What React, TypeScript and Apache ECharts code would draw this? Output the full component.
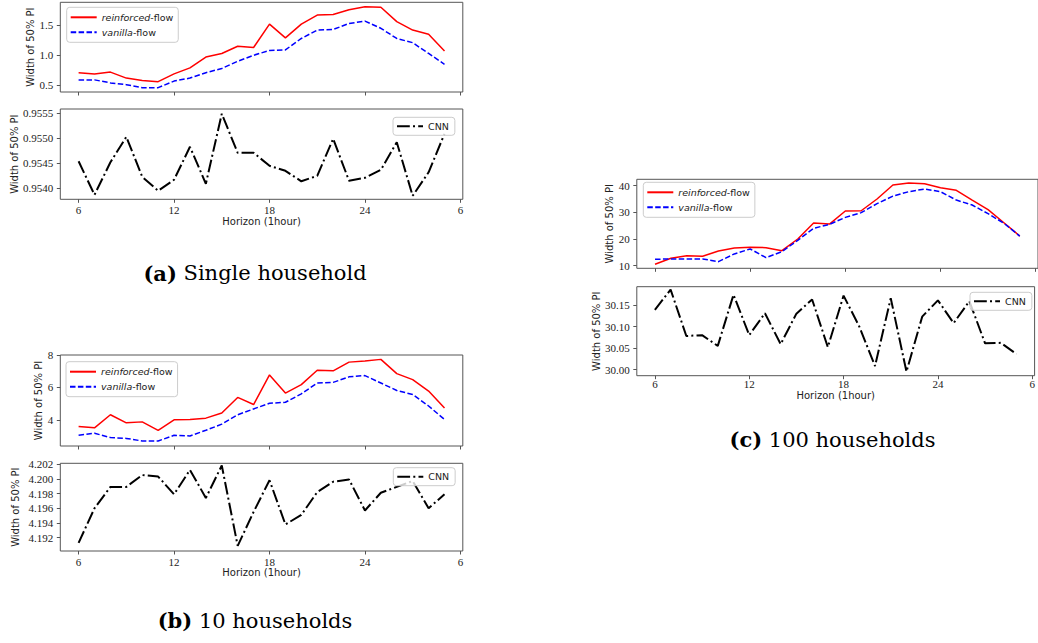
import React, { useEffect, useRef } from 'react';
import * as echarts from 'echarts';

// ---------- data ----------
const hours = [6, 7, 8, 9, 10, 11, 12, 13, 14, 15, 16, 17, 18, 19, 20, 21, 22, 23, 24, 25, 26, 27, 28, 29];

const singleReinforced = [0.71, 0.69, 0.72, 0.62, 0.58, 0.56, 0.69, 0.79, 0.97, 1.03, 1.15, 1.13, 1.52, 1.29, 1.52, 1.67, 1.68, 1.76, 1.81, 1.80, 1.56, 1.42, 1.35, 1.07];
const singleVanilla = [0.59, 0.59, 0.54, 0.51, 0.46, 0.46, 0.57, 0.62, 0.71, 0.78, 0.90, 1.00, 1.08, 1.09, 1.28, 1.42, 1.43, 1.53, 1.57, 1.45, 1.28, 1.21, 1.03, 0.85];
const singleCNN = [0.95454, 0.95387, 0.95452, 0.95503, 0.95423, 0.95395, 0.95417, 0.95483, 0.95409, 0.95549, 0.95471, 0.95471, 0.95445, 0.95435, 0.95414, 0.95425, 0.95499, 0.95415, 0.95421, 0.95437, 0.95492, 0.95385, 0.95432, 0.95509];

const tenReinforced = [3.58, 3.50, 4.31, 3.81, 3.87, 3.35, 4.00, 4.02, 4.10, 4.42, 5.38, 4.94, 6.77, 5.65, 6.17, 7.06, 7.02, 7.56, 7.63, 7.73, 6.85, 6.48, 5.77, 4.73];
const tenVanilla = [3.04, 3.17, 2.90, 2.85, 2.69, 2.69, 3.04, 3.00, 3.35, 3.73, 4.31, 4.67, 5.02, 5.08, 5.60, 6.27, 6.31, 6.65, 6.73, 6.27, 5.81, 5.56, 4.85, 4.02];
const tenCNN = [4.1913, 4.1960, 4.1989, 4.1989, 4.2005, 4.2003, 4.1979, 4.2012, 4.1974, 4.2018, 4.1909, 4.1955, 4.1998, 4.1938, 4.1951, 4.1982, 4.1996, 4.1999, 4.1957, 4.1981, 4.1989, 4.1997, 4.1960, 4.1979];

const hundredReinforced = [10.5, 12.75, 13.75, 13.5, 15.5, 16.6, 16.9, 16.75, 15.6, 20.0, 26.0, 25.6, 30.5, 30.6, 35.0, 40.25, 41.0, 40.75, 39.25, 38.25, 34.6, 31.0, 26.1, 21.1];
const hundredVanilla = [12.4, 12.5, 12.5, 12.5, 11.5, 14.4, 16.25, 13.0, 15.25, 19.5, 24.0, 25.5, 28.1, 29.9, 33.25, 36.1, 37.75, 38.75, 37.75, 34.6, 32.75, 29.5, 25.9, 21.1];
const hundredCNN = [30.139, 30.186, 30.078, 30.080, 30.055, 30.174, 30.080, 30.131, 30.059, 30.130, 30.163, 30.052, 30.172, 30.100, 30.008, 30.166, 29.995, 30.123, 30.161, 30.108, 30.159, 30.061, 30.062, 30.036];

const xTicks = [6, 12, 18, 24, 30];
const yTicksSingleFlow = [0.5, 1.0, 1.5];
const yTicksSingleCNN = [0.954, 0.9545, 0.955, 0.9555];
const yTicksTenFlow = [4, 6, 8];
const yTicksTenCNN = [4.192, 4.194, 4.196, 4.198, 4.2, 4.202];
const yTicksHundredFlow = [10, 20, 30, 40];
const yTicksHundredCNN = [30.0, 30.05, 30.1, 30.15];

const captions = [
  { tag: '(a)', text: 'Single household' },
  { tag: '(b)', text: '10 households' },
  { tag: '(c)', text: '100 households' },
];

const REINFORCED = 'reinforced-flow';
const VANILLA = 'vanilla-flow';
const CNN = 'CNN';

// ---------- layout / style ----------
const FRAME = '#555';
const TXT = '#222';
const SANS = "'DejaVu Sans', sans-serif";
const SERIF = "'Liberation Serif', 'Times New Roman', serif";
const CAPTION_FONT = "'DejaVu Serif', serif";

type Panel = {
  left: number; top: number; width: number; height: number;
  yMin: number; yMax: number; yTicks: number[]; dec: number;
  yNameGap: number; showX: boolean; xMargin: number; xNameGap: number;
  kind: 'flow' | 'cnn'; flowR?: number[]; flowV?: number[]; cnn?: number[];
  legendLeft: number; legendTop: number;
};

const panels: Panel[] = [
  { left: 60.3, top: 2.3, width: 402.5, height: 89.7, yMin: 0.388, yMax: 1.883, yTicks: yTicksSingleFlow, dec: 1, yNameGap: 20.5, showX: false, xMargin: 5, xNameGap: 13, kind: 'flow', flowR: singleReinforced, flowV: singleVanilla, legendLeft: 66.7, legendTop: 7.3 },
  { left: 60.3, top: 109, width: 402.5, height: 90.3, yMin: 0.95378, yMax: 0.955586, yTicks: yTicksSingleCNN, dec: 4, yNameGap: 39.5, showX: true, xMargin: 5, xNameGap: 13.5, kind: 'cnn', cnn: singleCNN, legendLeft: 393, legendTop: 117.3 },
  { left: 60.3, top: 355, width: 402.5, height: 91, yMin: 2.38, yMax: 8.0, yTicks: yTicksTenFlow, dec: 0, yNameGap: 12, showX: false, xMargin: 5, xNameGap: 13, kind: 'flow', flowR: tenReinforced, flowV: tenVanilla, legendLeft: 66, legendTop: 361.7 },
  { left: 60.3, top: 463.3, width: 402.5, height: 87.7, yMin: 4.1902, yMax: 4.2021, yTicks: yTicksTenCNN, dec: 3, yNameGap: 39.5, showX: true, xMargin: 5, xNameGap: 12, kind: 'cnn', cnn: tenCNN, legendLeft: 393.3, legendTop: 467.7 },
  { left: 636.8, top: 179.3, width: 403.5, height: 89, yMin: 9.0, yMax: 42.4, yTicks: yTicksHundredFlow, dec: 0, yNameGap: 16, showX: false, xMargin: 3, xNameGap: 9, kind: 'flow', flowR: hundredReinforced, flowV: hundredVanilla, legendLeft: 643.3, legendTop: 182.3 },
  { left: 636.8, top: 286.7, width: 403.5, height: 89, yMin: 29.9856, yMax: 30.1927, yTicks: yTicksHundredCNN, dec: 2, yNameGap: 32.6, showX: true, xMargin: 3, xNameGap: 8.5, kind: 'cnn', cnn: hundredCNN, legendLeft: 970, legendTop: 292.3 },
];

const captionPos = [
  { x: 255, y: 273 },
  { x: 255, y: 620.5 },
  { x: 832.5, y: 439.5 },
];

function pairs(values: number[]) {
  return hours.map((h, i) => [h, values[i]]);
}

function buildOption() {
  const grid: any[] = [];
  const xAxis: any[] = [];
  const yAxis: any[] = [];
  const series: any[] = [];
  const legend: any[] = [];

  panels.forEach((p, i) => {
    grid.push({
      left: p.left, top: p.top, width: p.width, height: p.height,
      show: true, borderColor: FRAME, borderWidth: 1, backgroundColor: 'transparent',
    });
    xAxis.push({
      type: 'value', gridIndex: i, min: 4.85, max: 30.15,
      axisLine: { show: false }, splitLine: { show: false },
      axisTick: { show: true, customValues: xTicks, length: 3.5, lineStyle: { color: FRAME, width: 1 } },
      axisLabel: {
        show: p.showX, customValues: xTicks, margin: p.xMargin,
        formatter: (v: number) => String(v > 24 ? v - 24 : v),
        fontFamily: SERIF, fontSize: 11, color: TXT,
      },
      name: p.showX ? 'Horizon (1hour)' : '',
      nameLocation: 'middle', nameGap: p.xNameGap,
      nameTextStyle: { fontFamily: SANS, fontSize: 10, color: TXT },
    });
    yAxis.push({
      type: 'value', gridIndex: i, min: p.yMin, max: p.yMax,
      axisLine: { show: false }, splitLine: { show: false },
      axisTick: { show: true, customValues: p.yTicks, length: 3.5, lineStyle: { color: FRAME, width: 1 } },
      axisLabel: {
        show: true, customValues: p.yTicks, margin: 7,
        formatter: (v: number) => v.toFixed(p.dec),
        fontFamily: SERIF, fontSize: 11, color: TXT,
      },
      name: 'Width of 50% PI', nameLocation: 'middle', nameGap: p.yNameGap,
      nameTextStyle: { fontFamily: SANS, fontSize: 10, color: TXT },
    });

    const legendCommon = {
      orient: 'vertical', left: p.legendLeft, top: p.legendTop,
      itemWidth: 26, itemHeight: 10, itemGap: 5,
      backgroundColor: 'rgba(255,255,255,0.8)', borderColor: '#cccccc', borderWidth: 1, borderRadius: 3,
      selectedMode: false,
      itemStyle: { opacity: 0, borderWidth: 0 },
      textStyle: {
        fontFamily: SANS, fontSize: 9.5, color: TXT,
        rich: { i: { fontFamily: SANS, fontSize: 9.5, color: TXT, fontStyle: 'italic' } },
      },
      formatter: (name: string) =>
        name === REINFORCED ? '{i|reinforced}-flow' : name === VANILLA ? '{i|vanilla}-flow' : name,
    };

    if (p.kind === 'flow') {
      series.push({
        name: REINFORCED, type: 'line', xAxisIndex: i, yAxisIndex: i, symbol: 'none',
        data: pairs(p.flowR!), color: '#ff0000',
        lineStyle: { color: '#ff0000', width: 1.5, type: 'solid' },
      });
      series.push({
        name: VANILLA, type: 'line', xAxisIndex: i, yAxisIndex: i, symbol: 'none',
        data: pairs(p.flowV!), color: '#0000ff',
        lineStyle: { color: '#0000ff', width: 1.5, type: [5.5, 2.4] },
      });
      legend.push({ ...legendCommon, padding: [5, 5, 5, 3], data: [REINFORCED, VANILLA] });
    } else {
      series.push({
        name: CNN, type: 'line', xAxisIndex: i, yAxisIndex: i, symbol: 'none',
        data: pairs(p.cnn!), color: '#000000',
        lineStyle: { color: '#000000', width: 2, type: [12.8, 3.2, 2, 3.2] },
      });
      legend.push({ ...legendCommon, padding: [4, 6, 4, 3], data: [CNN] });
    }
  });

  const graphic = captions.map((c, i) => ({
    type: 'text',
    x: captionPos[i].x,
    y: captionPos[i].y,
    style: {
      text: '{b|' + c.tag + '} ' + c.text,
      align: 'center', verticalAlign: 'middle',
      fontFamily: CAPTION_FONT, fontSize: 21, fill: '#000',
      rich: { b: { fontFamily: CAPTION_FONT, fontSize: 21, fontWeight: 'bold', fill: '#000' } },
    },
  }));

  return {
    animation: false,
    backgroundColor: '#ffffff',
    grid, xAxis, yAxis, series, legend, graphic,
  };
}

export default function App() {
  const ref = useRef<HTMLDivElement>(null);
  useEffect(() => {
    if (!ref.current) return;
    const chart = echarts.init(ref.current, null, { renderer: 'svg' });
    chart.setOption(buildOption() as any);
    return () => chart.dispose();
  }, []);
  return (
    <div
      ref={ref}
      style={{ position: 'absolute', left: 0, top: 0, width: 1038, height: 643, background: '#fff' }}
    />
  );
}
